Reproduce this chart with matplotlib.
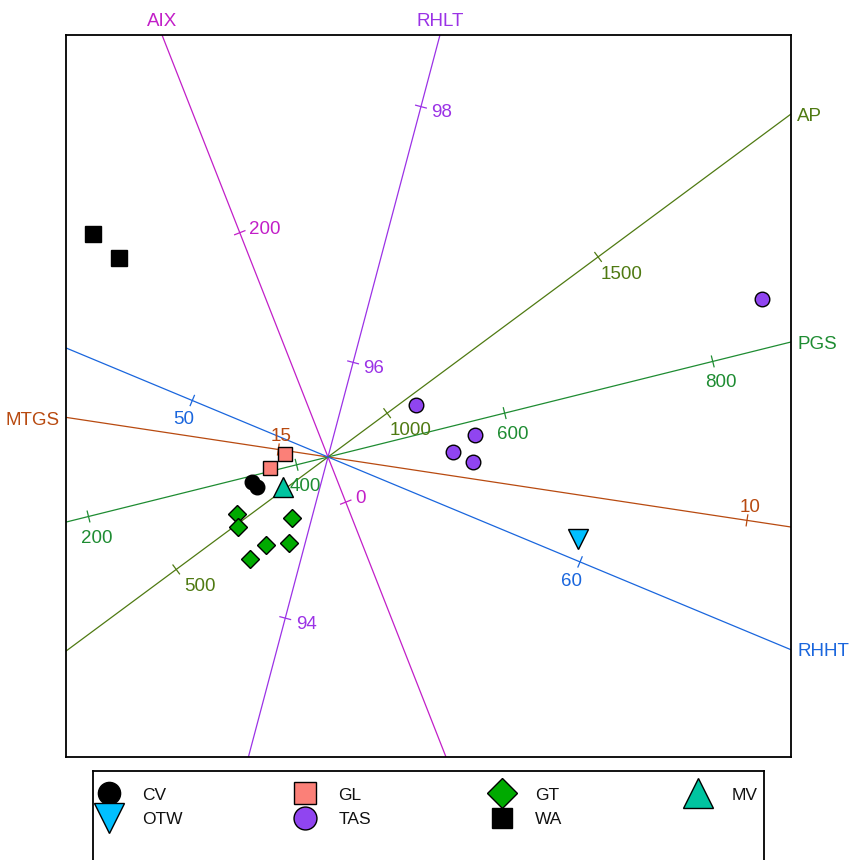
import numpy as np
import matplotlib
matplotlib.use("Agg")
import matplotlib.pyplot as plt

plt.rcParams['font.family'] = ['Liberation Sans', 'DejaVu Sans']

# ---- sample scores (biplot coordinates) ----
CV_x = [-0.76, -0.71]
CV_y = [-0.25, -0.30]
GL_x = [-0.43, -0.58]
GL_y = [0.03, -0.11]
GT_x = [-0.91, -0.90, -0.36, -0.39, -0.62, -0.78]
GT_y = [-0.57, -0.70, -0.61, -0.86, -0.88, -1.02]
MV_x = [-0.45]
MV_y = [-0.30]
OTW_x = [2.50]
OTW_y = [-0.82]
TAS_x = [0.88, 1.47, 1.25, 1.45, 4.34]
TAS_y = [0.52, 0.22, 0.05, -0.05, 1.58]
WA_x = [-2.35, -2.09]
WA_y = [2.23, 1.99]

# ---- calibrated variable axes ----
var_names = ["AIX", "RHLT", "AP", "PGS", "MTGS", "RHHT"]
var_angle = [111.47, 75.14, 36.53, 13.95, 171.4, -22.6]      # direction of increase (deg)
var_center = [33.5, 95.26, 859.8, 430.2, 14.47, 53.5]        # value at the origin
var_scale = [0.014475, 1.323, 0.00525, 0.01072, 0.948, 0.42]  # plot units per variable unit
var_ticks = [[0, 200], [94, 96, 98], [500, 1000, 1500],
             [200, 400, 600, 800], [10, 15], [50, 60]]
var_color = ["#c21fc8", "#9b32e6", "#4f7a12", "#1e8c32", "#b84a10", "#1a66dd"]

XLIM = (-2.62, 4.63)
YLIM = (-3.00, 4.22)
FS = 13.5

fig = plt.figure(figsize=(8.53, 8.60), dpi=100)
ax = fig.add_axes([66 / 853, (860 - 757) / 860, 725 / 853, 722 / 860])
ax.set_xlim(*XLIM)
ax.set_ylim(*YLIM)
ax.set_xticks([])
ax.set_yticks([])
for sp in ax.spines.values():
    sp.set_linewidth(1.3)
    sp.set_color("black")

# tick-label offsets (points) and alignment per axis
lab_off = [(6.5, 2.5), (7.5, -4.5), (17, -12.5), (6, -15.5), (2, 9), (-6, -14)]
lab_ha = ["left", "left", "center", "center", "center", "center"]

for name, ang, c0, sc, ticks, col, off, ha in zip(var_names, var_angle, var_center,
                                                  var_scale, var_ticks, var_color,
                                                  lab_off, lab_ha):
    u = np.array([np.cos(np.radians(ang)), np.sin(np.radians(ang))])
    n = np.array([-u[1], u[0]])
    ax.plot([-20 * u[0], 20 * u[0]], [-20 * u[1], 20 * u[1]], color=col, lw=0.9,
            zorder=1)
    for v in ticks:
        p = (v - c0) * sc * u
        a, b = p - 0.055 * n, p + 0.055 * n
        ax.plot([a[0], b[0]], [a[1], b[1]], color=col, lw=0.9, zorder=1)
        ax.annotate(str(v), xy=p, xytext=off, textcoords="offset points",
                    ha=ha, va="center", color=col, fontsize=FS, zorder=2)
    # name at the point where the positive ray leaves the frame
    ts = []
    for k, lims in ((0, XLIM), (1, YLIM)):
        if u[k] > 0:
            ts.append((lims[1] / u[k], k))
        elif u[k] < 0:
            ts.append((lims[0] / u[k], k))
    t, k = min(ts)
    e = t * u
    if k == 1:
        ax.annotate(name, xy=e, xytext=(0, 9.5), textcoords="offset points",
                    ha="center", va="center", color=col, fontsize=FS,
                    annotation_clip=False)
    elif u[0] > 0:
        ax.annotate(name, xy=e, xytext=(4.5, -1.5), textcoords="offset points",
                    ha="left", va="center", color=col, fontsize=FS,
                    annotation_clip=False)
    else:
        ax.annotate(name, xy=e, xytext=(-4.5, -2.5), textcoords="offset points",
                    ha="right", va="center", color=col, fontsize=FS,
                    annotation_clip=False)

# ---- groups ----
groups = ["CV", "GL", "GT", "MV", "OTW", "TAS", "WA"]
gx = [CV_x, GL_x, GT_x, MV_x, OTW_x, TAS_x, WA_x]
gy = [CV_y, GL_y, GT_y, MV_y, OTW_y, TAS_y, WA_y]
g_marker = ["o", "s", "D", "^", "v", "o", "s"]
g_face = ["black", "#fb8078", "#00aa00", "#00c4a0", "#00bfff", "#9045f0", "black"]
g_size = [10.5, 10, 9.6, 14.5, 15, 10.5, 11]
g_leg_size = [16, 15.5, 15, 22, 21, 16.5, 15]

for x, y, m, fc, ms in zip(gx, gy, g_marker, g_face, g_size):
    ax.plot(x, y, linestyle="none", marker=m, markersize=ms, markerfacecolor=fc,
            markeredgecolor="black", markeredgewidth=1.0, zorder=3)

# ---- legend panel (4 columns x 2 rows, filled row by row) ----
lax = fig.add_axes([93 / 853, (860 - 900) / 860, (764 - 93) / 853, 129 / 860])
lax.set_xlim(0, 671)
lax.set_ylim(129, 0)
lax.set_xticks([])
lax.set_yticks([])
for sp in lax.spines.values():
    sp.set_linewidth(1.3)
for i, g in enumerate(groups):
    row, colm = divmod(i, 4)
    mx = 16 + colm * 196.5
    my = 22 + row * 25
    lax.plot([mx], [my], linestyle="none", marker=g_marker[i],
             markersize=g_leg_size[i], markerfacecolor=g_face[i],
             markeredgecolor="black", markeredgewidth=1.0, clip_on=False)
    lax.text(mx + 33, my + 2, g, ha="left", va="center", fontsize=12.5,
             color="#111111")

fig.savefig("out.png", dpi=100)
